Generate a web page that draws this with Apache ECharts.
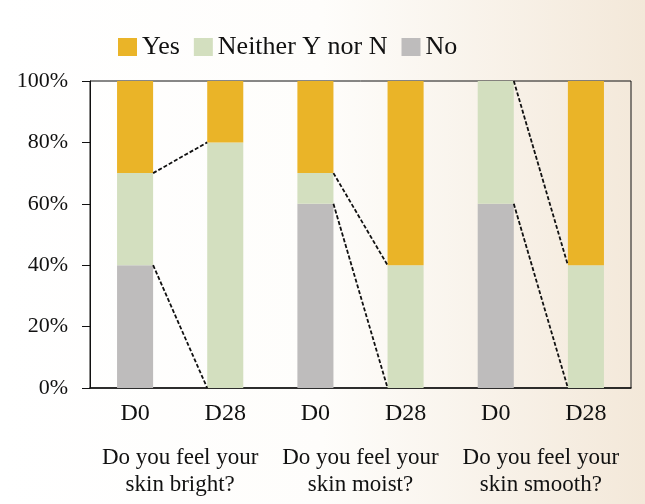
<!DOCTYPE html>
<html><head><meta charset="utf-8">
<script src="https://cdn.jsdelivr.net/npm/echarts@6/dist/echarts.min.js"></script>
<style>html,body{margin:0;padding:0;background:#fff}#c{width:645px;height:504px}</style>
</head><body><div id="c"></div>
<script>
const categories = ['D0', 'D28', 'D0', 'D28', 'D0', 'D28'];
const groupLabels = ['Do you feel your\nskin bright?', 'Do you feel your\nskin moist?', 'Do you feel your\nskin smooth?'];
const seriesNames = ['Yes', 'Neither Y nor N', 'No'];
const yesValues = [30, 20, 30, 60, 0, 60];
const neitherValues = [30, 80, 10, 40, 40, 40];
const noValues = [40, 0, 60, 0, 60, 0];
const yTicks = [0, 20, 40, 60, 80, 100];

// connectors between D0 and D28 of each group at stack boundaries
const connectors = [];
for (let g = 0; g < 3; g++) {
  const a = g * 2, b = a + 1;
  connectors.push([a, noValues[a], noValues[b]]);
  connectors.push([a, noValues[a] + neitherValues[a], noValues[b] + neitherValues[b]]);
}

const font = '"Liberation Serif", "DejaVu Serif", serif';
const chart = echarts.init(document.getElementById('c'));
chart.setOption({
  backgroundColor: {
    type: 'linear', x: 0, y: 0, x2: 1, y2: 0,
    colorStops: [{offset: 0, color: '#ffffff'}, {offset: 0.5, color: '#fefdfb'}, {offset: 1, color: '#f3e8d9'}]
  },
  animation: false,
  legend: {
    data: seriesNames,
    top: 29, left: 113,
    itemWidth: 19, itemHeight: 18, itemGap: 14,
    textStyle: {fontFamily: font, fontSize: 26, color: '#111'},
    icon: 'rect'
  },
  grid: {left: 90, right: 14, top: 81, bottom: 116, show: true, borderColor: '#111', borderWidth: 1, backgroundColor: 'transparent'},
  xAxis: [{
    type: 'category', data: categories,
    axisLine: {lineStyle: {color: '#111', width: 1.5}},
    axisTick: {show: false},
    axisLabel: {fontFamily: font, fontSize: 24, color: '#111', margin: 14, interval: 0}
  }, {
    type: 'category', data: groupLabels, position: 'bottom', offset: 50,
    axisLine: {show: false}, axisTick: {show: false},
    axisLabel: {fontFamily: font, fontSize: 23, color: '#111', lineHeight: 27, margin: 6, verticalAlign: 'top', interval: 0}
  }],
  yAxis: {
    type: 'value', min: 0, max: 100, interval: 20,
    axisLine: {show: true, lineStyle: {color: '#111'}},
    axisTick: {show: true, length: 8, lineStyle: {color: '#111'}},
    splitLine: {show: false},
    axisLabel: {fontFamily: font, fontSize: 22, color: '#111', margin: 22, formatter: v => v + '%'}
  },
  series: [
    {name: 'No', type: 'bar', stack: 's', data: noValues, barWidth: '40%', itemStyle: {color: '#bebcbc'}},
    {name: 'Neither Y nor N', type: 'bar', stack: 's', data: neitherValues, barWidth: '40%', itemStyle: {color: '#d3dfbf'}},
    {name: 'Yes', type: 'bar', stack: 's', data: yesValues, barWidth: '40%', itemStyle: {color: '#eab428'}},
    {
      type: 'custom', data: connectors, z: 5, silent: true,
      encode: {x: 0, y: 1},
      renderItem: function (params, api) {
        const i = api.value(0);
        const p1 = api.coord([i, api.value(1)]);
        const p2 = api.coord([i + 1, api.value(2)]);
        const half = api.size([1, 0])[0] * 0.2;
        return {
          type: 'line',
          shape: {x1: p1[0] + half, y1: p1[1], x2: p2[0] - half, y2: p2[1]},
          style: {stroke: '#111', lineWidth: 1.8, lineDash: [4, 2]}
        };
      }
    }
  ]
});
</script></body></html>
